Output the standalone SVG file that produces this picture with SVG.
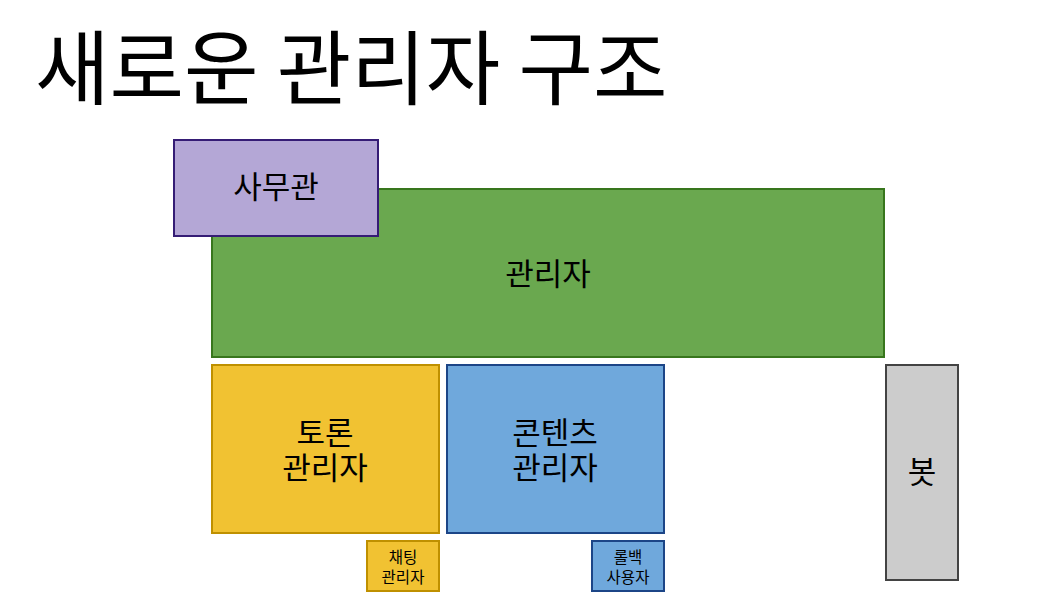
<svg xmlns="http://www.w3.org/2000/svg" width="1043" height="611" viewBox="0 0 1043 611">
<style>
text{font-family:"Noto Sans CJK KR","Noto Sans",sans-serif;fill:#000;text-anchor:middle}
.t{font-size:81px;text-anchor:start}
.m{font-size:31px}
.s{font-size:15.5px}
rect{stroke-width:2}
</style>
<rect width="1043" height="611" fill="#fff"/>
<text class="t" x="35" y="98">새로운 관리자 구조</text>
<g id="admin"><rect x="212" y="189" width="672" height="168" fill="#6aa84f" stroke="#38761d"/><text class="m" x="548" y="285">관리자</text></g>
<g id="officer"><rect x="174" y="140" width="204" height="96" fill="#b4a7d6" stroke="#351c75"/><text class="m" x="276" y="198">사무관</text></g>
<g id="debate"><rect x="212" y="365" width="227" height="168" fill="#f1c232" stroke="#bf9000"/><text class="m" x="325" y="444">토론</text><text class="m" x="325" y="479">관리자</text></g>
<g id="content"><rect x="447" y="365" width="217" height="168" fill="#6fa8dc" stroke="#1c4587"/><text class="m" x="555" y="444">콘텐츠</text><text class="m" x="555" y="479">관리자</text></g>
<g id="bot"><rect x="886" y="365" width="72" height="215" fill="#cccccc" stroke="#434343"/><text class="m" x="922" y="483">봇</text></g>
<g id="chat"><rect x="367" y="541" width="72" height="50" fill="#f1c232" stroke="#bf9000"/><text class="s" x="403" y="563">채팅</text><text class="s" x="403" y="583">관리자</text></g>
<g id="rollback"><rect x="592" y="541" width="72" height="50" fill="#6fa8dc" stroke="#1c4587"/><text class="s" x="628" y="563">롤백</text><text class="s" x="628" y="583">사용자</text></g>
<g id="connectors"></g>
</svg>
